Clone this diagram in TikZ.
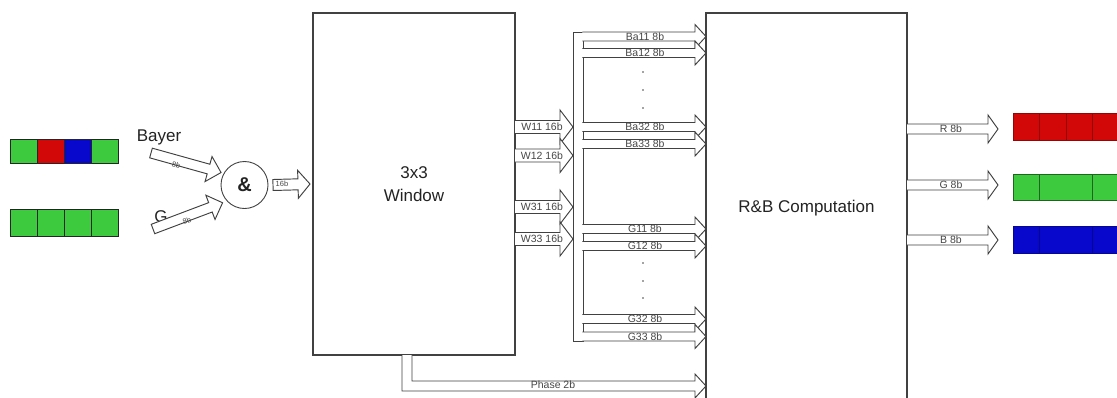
\documentclass[tikz,border=0pt]{standalone}
\usepackage{fontspec}
\setmainfont{Liberation Sans}
\usetikzlibrary{calc}
\definecolor{cgreen}{RGB}{62,202,62}
\definecolor{cred}{RGB}{210,8,8}
\definecolor{cblue}{RGB}{8,8,204}
\definecolor{lineg}{RGB}{65,65,65}
\definecolor{txtg}{RGB}{70,70,70}
\definecolor{txtb}{RGB}{35,35,35}
\tikzset{
  fat/.style n args={3}{to path={
    let \p1=(\tikztostart), \p2=(\tikztotarget),
        \n1={atan2(\y2-\y1,\x2-\x1)} in
    ($(\p1)+({\n1+90}:#1)$)
    -- ($(\p2)+({\n1+180}:#3)+({\n1+90}:#1)$)
    -- ($(\p2)+({\n1+180}:#3)+({\n1+90}:#2)$)
    -- (\p2)
    -- ($(\p2)+({\n1+180}:#3)+({\n1-90}:#2)$)
    -- ($(\p2)+({\n1+180}:#3)+({\n1-90}:#1)$)
    -- ($(\p1)+({\n1-90}:#1)$)
  }},
  fatclosed/.style n args={3}{to path={
    let \p1=(\tikztostart), \p2=(\tikztotarget),
        \n1={atan2(\y2-\y1,\x2-\x1)} in
    ($(\p1)+({\n1+90}:#1)$)
    -- ($(\p2)+({\n1+180}:#3)+({\n1+90}:#1)$)
    -- ($(\p2)+({\n1+180}:#3)+({\n1+90}:#2)$)
    -- (\p2)
    -- ($(\p2)+({\n1+180}:#3)+({\n1-90}:#2)$)
    -- ($(\p2)+({\n1+180}:#3)+({\n1-90}:#1)$)
    -- ($(\p1)+({\n1-90}:#1)$) -- cycle
  }},
  box/.style={draw=lineg, line width=1.4pt, fill=white, inner sep=0pt, outer sep=0pt,
    align=center, text=txtb, font=\fontsize{17}{23}\selectfont},
  fatarrow/.style={draw=lineg, line width=0.95pt, fill=white, line join=miter},
  lbl/.style={font=\fontsize{10.5}{12}\selectfont, text=txtg, inner sep=0pt},
  tinylbl/.style={font=\fontsize{7.5}{9}\selectfont, text=txtg, inner sep=0pt},
  big/.style={font=\fontsize{17}{20}\selectfont, text=txtb, inner sep=0pt},
  dot/.style={fill=txtg, draw=none},
}
\begin{document}
\begin{tikzpicture}[x=1pt,y=-1pt]
\useasboundingbox (0,0) rectangle (1117,397);
\clip (0,0) rectangle (1117,397);

% input pixel strips
\foreach \c [count=\i from 0] in {cgreen,cred,cblue,cgreen}
  \draw[fill=\c, draw=black!85, line width=0.8pt] (10+27*\i,139) rectangle (37+27*\i,163);
\foreach \i in {0,...,3}
  \draw[fill=cgreen, draw=black!85, line width=0.8pt] (10+27*\i,209) rectangle (37+27*\i,236);

% output pixel strips
\foreach \i in {0,...,4}
  \draw[fill=cred, draw=cred!70!black, line width=0.8pt] (1013+26.5*\i,113) rectangle (1039.5+26.5*\i,140);
\foreach \a/\b in {1013/1039,1039/1092,1092/1145}
  \draw[fill=cgreen, draw=cgreen!50!black, line width=0.8pt] (\a,174) rectangle (\b,200);
\foreach \a/\b in {1013/1039,1039/1092,1092/1145}
  \draw[fill=cblue, draw=cblue!70!black, line width=0.8pt] (\a,226) rectangle (\b,253);

% main blocks
\node[box, minimum width=202pt, minimum height=342pt] (win) at (414,184) {3x3\\Window};
\node[box, minimum width=201pt, minimum height=390pt] (rb) at (806.5,208) {R\&B Computation};
\node[circle, draw=lineg, line width=0.9pt, minimum size=47pt, inner sep=0pt, outer sep=0pt,
      text=txtb, font=\bfseries\fontsize{20}{20}\selectfont] (and) at (244.5,185) {\&};

% inputs
\node[big] (tBayer) at (159,137) {Bayer};
\node[big] (tG) at (161,217) {G};
\coordinate (bayerIn) at (151,153);
\coordinate (gIn) at (153,229);
\draw[fatarrow] (bayerIn) to[fatclosed={5pt}{13pt}{13pt}] ($(and.center)!1.13!(and.152)$);
\draw[fatarrow] (gIn) to[fatclosed={5pt}{13pt}{13pt}] ($(and.center)!1.2!(and.219)$);
\node[tinylbl, rotate=-16] (lBayer) at (176,165) {8b};
\node[tinylbl, rotate=20] (lG) at (187,221) {8b};

\draw[fatarrow] ($(and.east)+(5,0)$) to[fatclosed={5.5pt}{14pt}{12pt}] ($(win.west)+(-3,0)$);
\node[tinylbl] (l16) at (282,184) {16b};

% bus
\node[draw=lineg, line width=0.95pt, fill=white, minimum width=10pt, minimum height=309pt,
      inner sep=0pt, outer sep=0pt] (bus) at (578,186.5) {};

% window -> bus
\foreach \nm/\yy in {W11/127, W12/155.5, W31/207, W33/239} {
  \coordinate (y\nm) at (0,\yy);
  \draw[fatarrow] (win.east |- y\nm) to[fat={6.5pt}{17pt}{13pt}] (bus.west |- y\nm);
  \node[lbl] (l\nm) at (542,\yy) {\nm\ 16b};
}

% bus -> R&B
\foreach \nm/\yy in {Ba11/36.5, Ba12/53, Ba32/127, Ba33/144, G11/229, G12/246, G32/319, G33/336.5} {
  \coordinate (y\nm) at (0,\yy);
  \draw[fatarrow] ($(bus.east |- y\nm)+(-0.7,0)$) to[fat={4.5pt}{12pt}{11pt}] (rb.west |- y\nm);
  \node[lbl] (l\nm) at (645,\yy) {\nm\ 8b};
}
\foreach \yy in {72,90,108,263,281,298}
  \fill[dot] (643,\yy) circle (0.9);

% phase
\coordinate (phO) at (402,391);
\coordinate (phI) at (412,381);
\coordinate (phC) at (0,386);
\draw[fatarrow] (win.south -| phO) -- (phO) -- ($(rb.west |- phO)+(-11,0)$)
  -- ($(rb.west |- phC)+(-11,12)$) -- (rb.west |- phC) -- ($(rb.west |- phC)+(-11,-12)$)
  -- ($(rb.west |- phI)+(-11,0)$) -- (phI) -- (win.south -| phI);
\node[lbl] (lPhase) at (553,385) {Phase 2b};

% outputs
\foreach \nm/\yy in {R/129, G/185, B/240} {
  \coordinate (out\nm) at (998,\yy);
  \draw[fatarrow] (rb.east |- out\nm) to[fat={5pt}{14pt}{10pt}] (out\nm);
  \node[lbl] (lo\nm) at (951,\yy) {\nm\ 8b};
}
\end{tikzpicture}
\end{document}
